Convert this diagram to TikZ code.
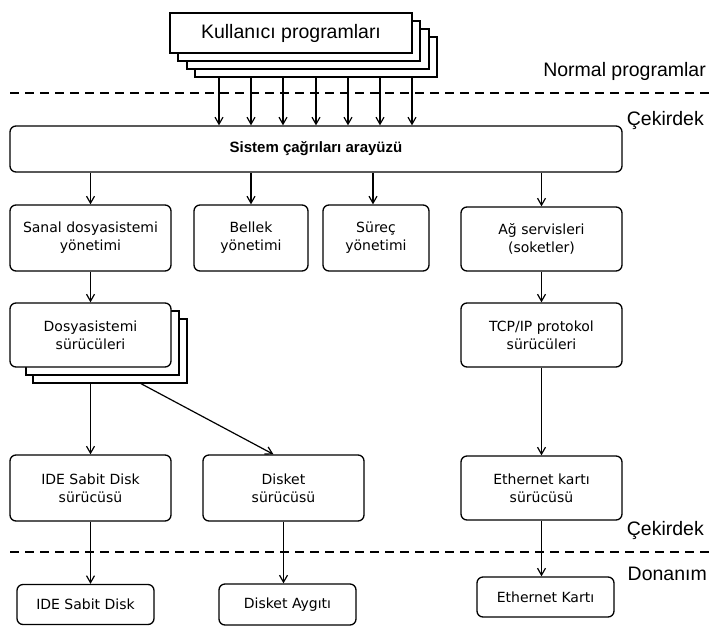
\documentclass[tikz,border=0pt]{standalone}
\usepackage{fontspec}
\setmainfont{DejaVu Sans}
\newfontfamily\layerfont{Liberation Sans}
\usetikzlibrary{arrows.meta}
\usetikzlibrary{calc}
\tikzset{
    box/.style={
        draw, line width=1.3pt, rounded corners=6pt, fill=white,
        align=center, inner sep=0pt,
        font=\fontsize{14}{18}\selectfont
    },
    sheet/.style={draw, line width=1.3pt, fill=white, inner sep=0pt},
    arr/.style={line width=1.2pt, -{Straight Barb[length=7pt,width=8pt]}},
    border/.style={line width=1.1pt, dash pattern=on 9pt off 6pt},
    layer/.style={anchor=base east, inner sep=0pt,
        font=\layerfont\fontsize{19.5}{22}\selectfont}
}

\begin{document}
\begin{tikzpicture}[x=1pt,y=-1pt]
		\useasboundingbox (0,0) rectangle (723,638);

		% user programs (stack of sheets)
		\node[sheet, minimum width=242, minimum height=40] (userd) at (316,57) {};
		\node[sheet, minimum width=242, minimum height=40] (userc) at (308,49) {};
		\node[sheet, minimum width=242, minimum height=40] (userb) at (299,41) {};
		\node[sheet, minimum width=242, minimum height=40,
			font=\layerfont\fontsize{19.5}{22}\selectfont] (user) at (291,33) {Kullanıcı programları};

		% layer borders
		\draw[border] (10,93) -- (713,93);
		\draw[border] (10,552) -- (713,552);
		\node[layer] (lnormal) at (706,76) {Normal programlar};
		\node[layer] (lkernel) at (704,125) {Çekirdek};
		\node[layer] (lkernelb) at (704,535) {Çekirdek};
		\node[layer] (lhw) at (707,580) {Donanım};

		% system call interface
		\node[box, minimum width=612, minimum height=46,
			font=\layerfont\bfseries\fontsize{15}{18}\selectfont] (sys) at (316,149) {Sistem çağrıları arayüzü};

		\foreach \x in {219,251,283,316,348,380,412}
			\draw[arr] (\x,0 |- userd.south) -- (\x,0 |- sys.north);

		% kernel subsystems
		\node[box, minimum width=161, minimum height=66] (vfs) at (90.5,238) {Sanal dosyasistemi\\yönetimi};
		\node[box, minimum width=114, minimum height=66] (mem) at (251,238) {Bellek\\yönetimi};
		\node[box, minimum width=106, minimum height=66] (proc) at (376,238) {Süreç\\yönetimi};
		\node[box, minimum width=161, minimum height=64] (net) at (541.5,239) {Ağ servisleri\\(soketler)};

		\draw[arr] (sys.south -| vfs.north) -- (vfs.north);
		\draw[arr] (sys.south -| mem.north) -- (mem.north);
		\draw[arr] (373,0 |- sys.south) -- (373,0 |- proc.north);
		\draw[arr] (sys.south -| net.north) -- (net.north);

		% drivers
		\node[sheet, minimum width=154, minimum height=64] (drvc) at (110,351) {};
		\node[sheet, minimum width=153, minimum height=64] (drvb) at (102.5,343) {};
		\node[box, minimum width=161, minimum height=64] (drv) at (90.5,335) {Dosyasistemi\\sürücüleri};
		\node[box, minimum width=161, minimum height=64] (tcp) at (541.5,335) {TCP/IP protokol\\sürücüleri};

		\draw[arr] (vfs) -- (drv);
		\draw[arr] (net) -- (tcp);

		\node[box, minimum width=161, minimum height=66] (ided) at (90.5,488) {IDE Sabit Disk\\sürücüsü};
		\node[box, minimum width=161, minimum height=66] (flpd) at (283.5,488) {Disket\\sürücüsü};
		\node[box, minimum width=161, minimum height=64] (ethd) at (541.5,488) {Ethernet kartı\\sürücüsü};

		\draw[arr] (drvc.south -| ided.north) -- (ided.north);
		\draw[arr] ($(drvc.south)+(31,0)$) -- ($(flpd.north)+(-10,0)$);
		\draw[arr] (tcp) -- (ethd);

		% hardware
		\node[box, minimum width=137, minimum height=40] (ide) at (85.5,604.5) {IDE Sabit Disk};
		\node[box, minimum width=137, minimum height=41] (flp) at (287.5,604.5) {Disket Aygıtı};
		\node[box, minimum width=137, minimum height=40] (eth) at (545.5,597) {Ethernet Kartı};

		\draw[arr] (ided.south) -- (ided.south |- ide.north);
		\draw[arr] (flpd.south) -- (flpd.south |- flp.north);
		\draw[arr] (ethd.south) -- (ethd.south |- eth.north);
\end{tikzpicture}
\end{document}
